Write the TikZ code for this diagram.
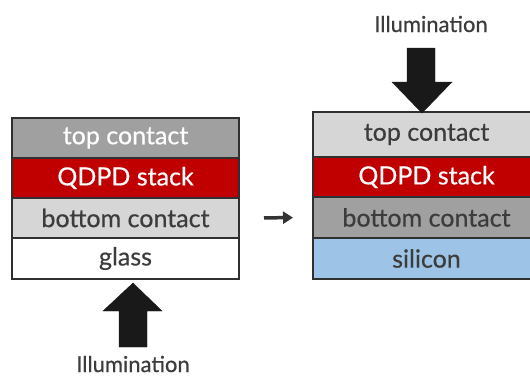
\documentclass[tikz,border=0pt]{standalone}
\usepackage{fontspec}
\setmainfont{Lato}
\newfontfamily\layerfont[FakeBold=0.5]{Lato}
\usetikzlibrary{positioning,arrows.meta}

\definecolor{contactdark}{HTML}{A0A0A0}
\definecolor{contactlight}{HTML}{D6D6D6}
\definecolor{qdpdred}{HTML}{C00000}
\definecolor{siliconblue}{HTML}{9DC3E6}
\definecolor{textgray}{HTML}{3C3C3C}
\definecolor{edgegray}{HTML}{303030}

\tikzset{
  layer/.style={rectangle,draw=edgegray,line width=1pt,minimum width=226pt,minimum height=39pt,
    inner sep=0pt,font=\layerfont\fontsize{25}{27}\selectfont,text=textgray},
  lighttext/.style={text=white},
  blockarrow/.style={fill=black!90,draw=black!90,line join=miter},
  illum/.style={font=\layerfont\fontsize{22}{24}\selectfont,text=textgray}
}

\begin{document}
\begin{tikzpicture}[x=1pt,y=-1pt]
		\useasboundingbox[fill=white] (0,0) rectangle (530,376);

		% glass substrate stack
		\node[layer,lighttext,fill=contactdark,anchor=north west] (ltop) at (12,118) {top contact};
		\node[layer,lighttext,fill=qdpdred,below=0pt of ltop] (lqdpd) {QDPD stack};
		\node[layer,fill=contactlight,below=0pt of lqdpd] (lbot) {bottom contact};
		\node[layer,fill=white,minimum height=40pt,below=0pt of lbot] (lglass) {glass};
		\draw[edgegray,line width=2pt] (ltop.north west) rectangle (lglass.south east);

		% silicon substrate stack
		\node[layer,fill=contactlight,minimum height=44pt,anchor=north west] (rtop) at (313,112) {top contact};
		\node[layer,lighttext,fill=qdpdred,below=0pt of rtop] (rqdpd) {QDPD stack};
		\node[layer,fill=contactdark,minimum height=40pt,below=0pt of rqdpd] (rbot) {bottom contact};
		\node[layer,fill=siliconblue,minimum height=40pt,below=0pt of rbot] (rsilicon) {silicon};
		\draw[edgegray,line width=2pt] (rtop.north west) rectangle (rsilicon.south east);

		% transfer arrow
		\draw[black!80,line width=3.5pt,-{Triangle[length=10pt,width=12pt]},shorten <=25pt,shorten >=20pt] (lbot.east) -> (rbot.west);

		% illumination from below
		\node[illum] (lillum) at (133,364) {Illumination};
		\draw[blockarrow] (133,283) -- (162,311) -- (147,311) -- (147,347) -- (119,347) -- (119,311) -- (103,311) -- cycle;

		% illumination from above
		\node[illum] (rillum) at (431,24) {Illumination};
		\draw[blockarrow] (422,113) -- (452,82) -- (435,82) -- (435,48) -- (407,48) -- (407,82) -- (392,82) -- cycle;
	\end{tikzpicture}
\end{document}
